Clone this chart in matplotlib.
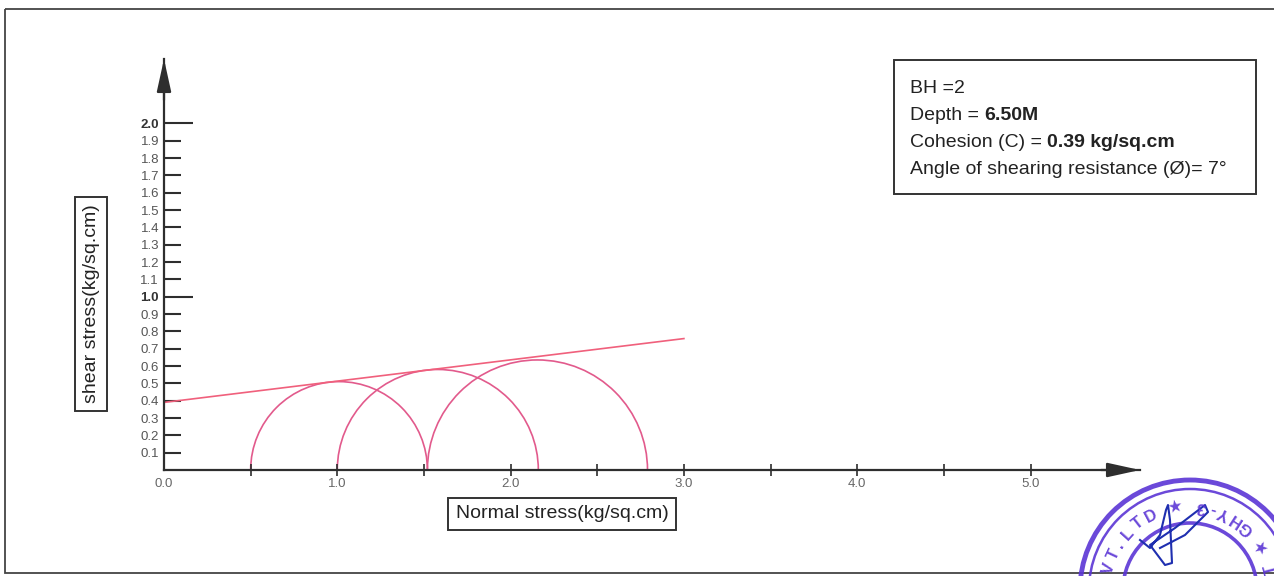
import numpy as np
import matplotlib
matplotlib.use("Agg")
import matplotlib.pyplot as plt
from matplotlib.patches import Arc, Rectangle, Circle

plt.rcParams['font.family'] = ['Liberation Sans', 'DejaVu Sans']

# test results (kg/sq.cm)
sigma3 = [0.50, 1.00, 1.52]
sigma1 = [1.52, 2.16, 2.79]
cohesion = 0.39
phi_deg = 7
envelope_end = 3.0

x_labels = ['0.0', '1.0', '2.0', '3.0', '4.0', '5.0']
y_ticks = [round(0.1 * i, 1) for i in range(1, 21)]

info_lines = [("BH =2", ""),
              ("Depth = ", "6.50M"),
              ("Cohesion (C) = ", "0.39 kg/sq.cm"),
              ("Angle of shearing resistance (Ø)= 7°", "")]

W, H = 1274, 576
fig = plt.figure(figsize=(W / 100, H / 100), dpi=100)

# overlay in pixel coords for the frame, boxes and stamp
ov = fig.add_axes([0, 0, 1, 1], zorder=0)
ov.set_xlim(0, W)
ov.set_ylim(H, 0)
ov.axis('off')

# main axes: 173.3 px per unit on both axes
px = 173.3
x0, y0 = 164, 470
x_tip, y_tip = 1140, 59
ax = fig.add_axes([x0 / W, (H - y0) / H, (x_tip - x0) / W, (y0 - y_tip) / H], zorder=2)
ax.set_xlim(0, (x_tip - x0) / px)
ax.set_ylim(0, (y0 - y_tip) / px)
ax.patch.set_alpha(0)

axcol = '#2e2e2e'
for s in ['top', 'right']:
    ax.spines[s].set_visible(False)
for s in ['left', 'bottom']:
    ax.spines[s].set_color(axcol)
    ax.spines[s].set_linewidth(1.6)

# arrow heads
ax.annotate('', xy=(1, 0), xycoords='axes fraction', xytext=(0.96, 0),
            arrowprops=dict(arrowstyle='-|>,head_length=1.0,head_width=0.22',
                            color=axcol, lw=1.6, mutation_scale=20, shrinkA=0, shrinkB=0))
ax.annotate('', xy=(0, 1), xycoords='axes fraction', xytext=(0, 0.9),
            arrowprops=dict(arrowstyle='-|>,head_length=1.0,head_width=0.22',
                            color=axcol, lw=1.6, mutation_scale=20, shrinkA=0, shrinkB=0))

# x ticks
xt = [0.5 * i for i in range(1, 11)]
ax.set_xticks([0] + xt)
xl = ['0.0'] + ['' if i % 2 else x_labels[i // 2] for i in range(1, 11)]
ax.set_xticklabels(xl)
ax.tick_params(axis='x', direction='inout', length=8, width=1.2, color=axcol,
               pad=1.5, labelsize=9.5, labelcolor='#666666')
ax.xaxis.get_major_ticks()[0].tick1line.set_visible(False)

# y ticks
ax.set_yticks(y_ticks)
ax.set_yticklabels([f'{v:.1f}' for v in y_ticks])
ax.tick_params(axis='y', direction='in', length=12.2, width=1.5, color=axcol,
               pad=3.6, labelsize=9.5, labelcolor='#555555')
for t, v in zip(ax.yaxis.get_major_ticks(), y_ticks):
    if v in (1.0, 2.0):
        t.tick1line.set_markersize(20.9)
        t.label1.set_fontweight('bold')
        t.label1.set_color('#333333')

# Mohr circles
circle_col = '#e25a8c'
for s3, s1 in zip(sigma3, sigma1):
    c = (s1 + s3) / 2
    d = s1 - s3
    ax.add_patch(Arc((c, 0), d, d, theta1=0, theta2=180, color=circle_col, lw=1.2))

# failure envelope
xe = np.array([0, envelope_end])
ax.plot(xe, cohesion + xe * np.tan(np.radians(phi_deg)), color='#f0607c', lw=1.2)

# axis labels in boxes
box = dict(boxstyle='square,pad=0.4', fc='white', ec='#333333', lw=1.4)
ov.text(562, 514, 'Normal stress(kg/sq.cm)', fontsize=14, color='#222222',
        ha='center', va='center', bbox=box)
ov.text(91, 304, 'shear stress(kg/sq.cm)', fontsize=14, color='#222222',
        ha='center', va='center', rotation=90, bbox=box)

# info box
ov.add_patch(Rectangle((894, 60), 362, 134, fill=False, ec='#333333', lw=1.4))
for (plain, bold), yb in zip(info_lines, [93, 120, 147, 174]):
    t = ov.text(910, yb, plain, fontsize=14, color='#222222', ha='left', va='baseline')
    if bold:
        ov.annotate(bold, xy=(1, 0), xycoords=t, fontsize=14, fontweight='bold',
                    color='#222222', ha='left', va='bottom')

# outer frame
ov.add_patch(Rectangle((5, 9), 1300, 564, fill=False, ec='#444444', lw=1.3))

# stamp
st = '#5b35d5'
cx, cy = 1190, 590
for r, lw in [(110, 3.5), (101, 1.8), (67, 2.6)]:
    ov.add_patch(Circle((cx, cy), r, fill=False, ec=st, lw=lw, alpha=0.9))
left_txt = [('P', 175), ('V', 165), ('T', 155), ('.', 147), ('L', 138),
            ('T', 128), ('D', 118), ('★', 100)]
right_txt = [('G', 48), ('H', 57), ('Y', 66), ('-', 74), ('3', 82), ('★', 32), ('T', 14)]
for ch, a in left_txt:
    th = np.radians(a)
    ov.text(cx + 84 * np.cos(th), cy - 84 * np.sin(th), ch, color=st, fontsize=12,
            fontweight='bold', rotation=a - 90, ha='center', va='center', alpha=0.9)
for ch, a in right_txt:
    th = np.radians(a)
    ov.text(cx + 84 * np.cos(th), cy - 84 * np.sin(th), ch, color=st, fontsize=12,
            fontweight='bold', rotation=a + 90, ha='center', va='center', alpha=0.9)
sig_x = [1140, 1150, 1160, 1166, 1168, 1170, 1172, 1165, 1150, 1175, 1205, 1208, 1185, 1160]
sig_y = [540, 548, 535, 510, 505, 520, 563, 565, 545, 528, 505, 512, 535, 548]
ov.plot(sig_x, sig_y, color='#1f2fb0', lw=1.5)

fig.savefig('out.png', dpi=100)
